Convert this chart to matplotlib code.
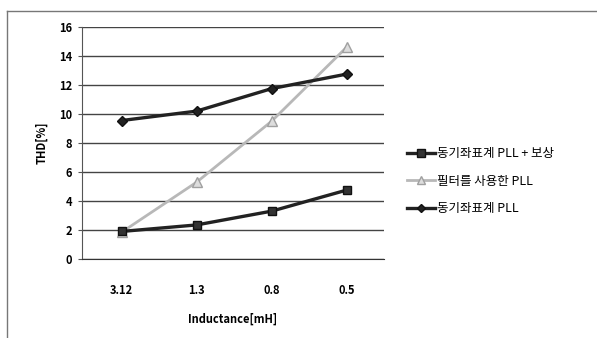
import matplotlib
matplotlib.use("Agg")
import matplotlib.pyplot as plt
from matplotlib.lines import Line2D

plt.rcParams['font.family'] = ['Noto Sans CJK KR', 'DejaVu Sans']

# inductance categories and THD values per PLL method
inductance = ["3.12", "1.3", "0.8", "0.5"]
thd_sync_comp = [1.9, 2.35, 3.3, 4.75]
thd_filter = [1.85, 5.3, 9.5, 14.6]
thd_sync = [9.55, 10.2, 11.75, 12.75]
series_names = ["동기좌표계 PLL + 보상", "필터를 사용한 PLL", "동기좌표계 PLL"]

fig = plt.figure(figsize=(5.97, 3.38), dpi=100)
ax = fig.add_axes([82 / 597, 1 - 259 / 338, 302 / 597, 232 / 338])

x = range(len(inductance))
ax.plot(x, thd_sync_comp, color="#222222", lw=2.4, marker="s", ms=6,
        mfc="#333333", mec="#111111", label=series_names[0], zorder=4)
ax.plot(x, thd_filter, color="#b8b8b8", lw=2.0, marker="^", ms=7,
        mfc="#dddddd", mec="#a0a0a0", label=series_names[1], zorder=3)
ax.plot(x, thd_sync, color="#222222", lw=2.4, marker="D", ms=5,
        mfc="#222222", mec="#111111", label=series_names[2], zorder=4)

ax.set_xlim(-0.53, 3.5)
ax.set_ylim(0, 16)
ax.set_yticks(range(0, 17, 2))
ax.set_xticks(list(x))
ax.set_xticklabels(inductance)
ax.grid(axis="y", color="#444444", lw=1.0)
ax.set_axisbelow(True)
for side in ["top", "right"]:
    ax.spines[side].set_visible(False)
ax.spines["left"].set_color("#555555")
ax.spines["bottom"].set_color("#333333")
ax.tick_params(axis="y", length=3, color="#555555", labelsize=8, pad=4)
ax.tick_params(axis="x", length=0, labelsize=8, pad=18)
for lab in ax.get_xticklabels() + ax.get_yticklabels():
    lab.set_fontweight("bold")

ax.set_ylabel("THD[%]", fontsize=8, fontweight="bold", labelpad=8)
ax.set_xlabel("Inductance[mH]", fontsize=8, fontweight="bold", labelpad=11)

ax.legend(loc="center left", bbox_to_anchor=(1.04, 0.336), frameon=False,
          fontsize=9, handlelength=2.2, handletextpad=0.2, labelspacing=1.15,
          markerscale=0.85)

# outer chart frame (top and left edges)
fig.add_artist(Line2D([7 / 597, 1.0], [1 - 11 / 338] * 2, color="#777777", lw=1.0))
fig.add_artist(Line2D([7 / 597] * 2, [0.0, 1 - 11 / 338], color="#777777", lw=1.0))

fig.savefig("out.png", dpi=100)
